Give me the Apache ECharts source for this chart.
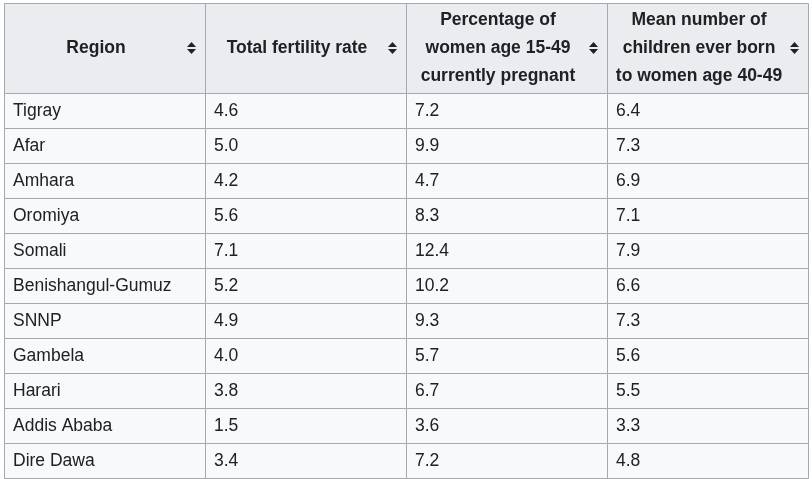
<!DOCTYPE html>
<html><head><meta charset="utf-8">
<script src="https://cdn.jsdelivr.net/npm/echarts@6/dist/echarts.min.js"></script>
<style>html,body{margin:0;padding:0;background:#fff}#c{width:812px;height:479px}</style>
</head><body><div id="c"></div>
<script>
const headers = ["Region", "Total fertility rate", "Percentage of\nwomen age 15-49\ncurrently pregnant", "Mean number of\nchildren ever born\nto women age 40-49"];
const regions = ["Tigray", "Afar", "Amhara", "Oromiya", "Somali", "Benishangul-Gumuz", "SNNP", "Gambela", "Harari", "Addis Ababa", "Dire Dawa"];
const fertilityRate = [4.6, 5.0, 4.2, 5.6, 7.1, 5.2, 4.9, 4.0, 3.8, 1.5, 3.4];
const pctPregnant = [7.2, 9.9, 4.7, 8.3, 12.4, 10.2, 9.3, 5.7, 6.7, 3.6, 7.2];
const childrenEverBorn = [6.4, 7.3, 6.9, 7.1, 7.9, 6.6, 7.3, 5.6, 5.5, 3.3, 4.8];

const FONT = '"Liberation Sans", Arial, sans-serif';
const TXT = '#202122', BORDER = '#a2a9b1';

const colIdx = headers.map((_, i) => i);
const headerData = headers.map((h, i) => [i, 0, h]);
const bodyData = [];
regions.forEach((r, j) => {
  bodyData.push([0, j, r]);
  bodyData.push([1, j, fertilityRate[j].toFixed(1)]);
  bodyData.push([2, j, pctPregnant[j].toFixed(1)]);
  bodyData.push([3, j, childrenEverBorn[j].toFixed(1)]);
});

function cellRect(api) {
  const p = api.coord([api.value(0), api.value(1)]);
  const s = api.size([1, 1]);
  const x0 = Math.round(p[0] - s[0] / 2), x1 = Math.round(p[0] + s[0] / 2);
  const y0 = Math.round(p[1] - s[1] / 2), y1 = Math.round(p[1] + s[1] / 2);
  return {x0, x1, y0, y1};
}

function renderHeader(params, api) {
  const c = cellRect(api);
  const txt = headers[api.value(0)];
  const cx = (c.x0 + c.x1) / 2 - 8.5, cy = (c.y0 + c.y1) / 2 + 0.5;
  const ix = c.x1 - 13.5, iy = cy - 0.5;
  return {
    type: 'group',
    children: [
      {type: 'rect', shape: {x: c.x0 + 0.5, y: c.y0 + 0.5, width: c.x1 - c.x0, height: c.y1 - c.y0},
       style: {fill: '#eaecf0', stroke: BORDER, lineWidth: 1}},
      {type: 'text', style: {text: txt, x: cx, y: cy, align: 'center', verticalAlign: 'middle',
        fontFamily: FONT, fontSize: 17.5, fontWeight: 'bold', lineHeight: 28, fill: TXT}},
      {type: 'polygon', shape: {points: [[ix - 4.5, iy - 1], [ix + 4.5, iy - 1], [ix, iy - 6]]}, style: {fill: '#202122'}},
      {type: 'polygon', shape: {points: [[ix - 4.5, iy + 1], [ix + 4.5, iy + 1], [ix, iy + 6]]}, style: {fill: '#202122'}}
    ]
  };
}

function renderBody(params, api) {
  const c = cellRect(api);
  const d = bodyData[params.dataIndex];
  return {
    type: 'group',
    children: [
      {type: 'rect', shape: {x: c.x0 + 0.5, y: c.y0 + 0.5, width: c.x1 - c.x0, height: c.y1 - c.y0},
       style: {fill: '#f8f9fa', stroke: BORDER, lineWidth: 1}},
      {type: 'text', style: {text: d[2], x: c.x0 + 9, y: (c.y0 + c.y1) / 2 + 1, align: 'left', verticalAlign: 'middle',
        fontFamily: FONT, fontSize: 17.5, fill: TXT}}
    ]
  };
}

const chart = echarts.init(document.getElementById('c'), null, {renderer: 'canvas'});
chart.setOption({
  animation: false,
  backgroundColor: '#ffffff',
  grid: [
    {left: 4, width: 804, top: 3, height: 90},
    {left: 4, width: 804, top: 93, height: 385}
  ],
  xAxis: [
    {type: 'category', gridIndex: 0, data: colIdx, show: false},
    {type: 'category', gridIndex: 1, data: colIdx, show: false}
  ],
  yAxis: [
    {type: 'category', gridIndex: 0, data: [0], show: false},
    {type: 'category', gridIndex: 1, data: regions, inverse: true, show: false}
  ],
  series: [
    {type: 'custom', xAxisIndex: 0, yAxisIndex: 0, data: headerData, renderItem: renderHeader, silent: true},
    {type: 'custom', xAxisIndex: 1, yAxisIndex: 1, data: bodyData, renderItem: renderBody, silent: true}
  ]
});
</script></body></html>
